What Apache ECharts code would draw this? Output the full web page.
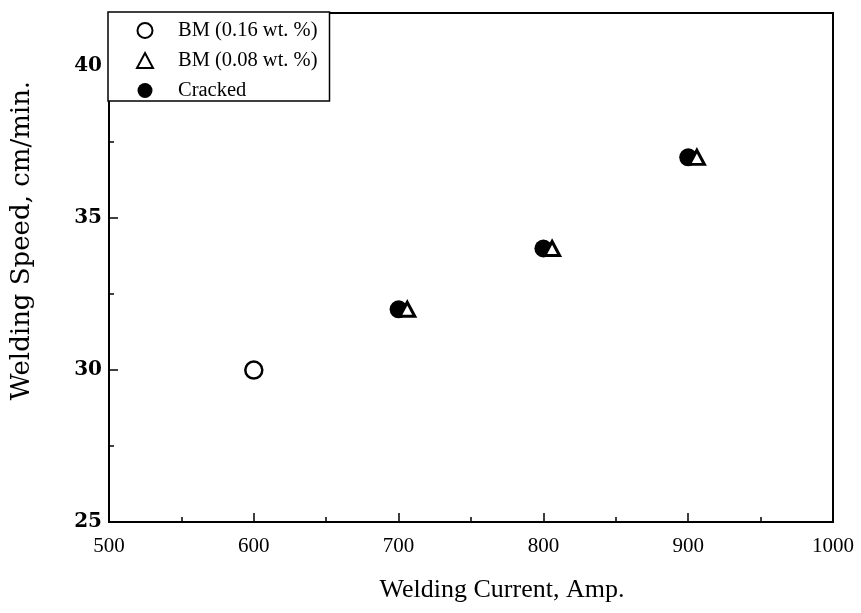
<!DOCTYPE html>
<html>
<head>
<meta charset="utf-8">
<script src="https://cdn.jsdelivr.net/npm/echarts@6/dist/echarts.min.js"></script>
<style>
  html, body { margin: 0; padding: 0; background: #fff; }
  #chartDiv { width: 861px; height: 613px; }
</style>
</head>
<body>
<div id="chartDiv"></div>
<script>
var seriesNames = ['BM (0.16 wt. %)', 'BM (0.08 wt. %)', 'Cracked'];
// [welding current, welding speed]
var bm016 = [[600, 30]];
var bm008 = [[706, 32], [806, 34], [906, 37]];
var cracked = [[700, 32], [800, 34], [900, 37]];

var myChart = echarts.init(document.getElementById('chartDiv'));
window.onresize = myChart.resize;

var tickFont = 'Liberation Serif';

myChart.setOption({
    backgroundColor: '#fff',
    animation: false,
    grid: {
        left: 109, right: 28, top: 13, bottom: 91,
        show: true, borderColor: '#000', borderWidth: 2
    },
    legend: {
        data: seriesNames,
        orient: 'vertical',
        left: 108, top: 12,
        padding: [8, 12, 0, 28],
        itemWidth: 16, itemHeight: 15,
        itemGap: 9,
        backgroundColor: '#fff',
        borderColor: '#000',
        borderWidth: 1.5,
        borderRadius: 0,
        textStyle: {fontFamily: tickFont, fontSize: 20.5, color: '#000', padding: [0, 0, 0, 20]}
    },
    xAxis: {
        type: 'value',
        min: 500, max: 1000, interval: 100,
        name: 'Welding Current, Amp.',
        nameLocation: 'middle',
        nameGap: 55,
        nameTextStyle: {fontFamily: tickFont, fontSize: 26, color: '#000', padding: [0, 0, 0, 62]},
        axisLine: {lineStyle: {color: '#000', width: 2}},
        axisTick: {inside: true, length: 9, lineStyle: {color: '#000', width: 1.5}},
        minorTick: {show: true, splitNumber: 2, length: 5, lineStyle: {color: '#000', width: 1.5}},
        splitLine: {show: false},
        axisLabel: {
            fontFamily: tickFont, fontSize: 21, color: '#000', margin: 14,
            formatter: function (v) { return String(v); }
        }
    },
    yAxis: {
        type: 'value',
        min: 25, max: 41.75, interval: 5,
        name: 'Welding Speed, cm/min.',
        nameLocation: 'middle',
        nameGap: 74,
        nameTextStyle: {fontFamily: 'DejaVu Serif', fontSize: 26, color: '#000', padding: [0, 0, 0, 54]},
        axisLine: {lineStyle: {color: '#000', width: 2}},
        axisTick: {inside: true, length: 9, lineStyle: {color: '#000', width: 1.5}},
        minorTick: {show: true, splitNumber: 2, length: 5, lineStyle: {color: '#000', width: 1.5}},
        splitLine: {show: false},
        axisLabel: {fontFamily: 'DejaVu Serif', fontWeight: 'bold', fontSize: 20, color: '#000', margin: 7, showMaxLabel: false}
    },
    series: [{
        name: seriesNames[0],
        type: 'scatter',
        data: bm016,
        symbol: 'circle',
        symbolSize: 17,
        itemStyle: {color: '#fff', borderColor: '#000', borderWidth: 2.5, opacity: 1}
    }, {
        name: seriesNames[2],
        type: 'scatter',
        data: cracked,
        symbol: 'circle',
        symbolSize: 18,
        itemStyle: {color: '#000', opacity: 1}
    }, {
        name: seriesNames[1],
        type: 'scatter',
        data: bm008,
        symbol: 'triangle',
        symbolSize: [15, 14],
        symbolKeepAspect: true,
        z: 3,
        itemStyle: {color: '#fff', borderColor: '#000', borderWidth: 3, opacity: 1}
    }]
});
</script>
</body>
</html>
